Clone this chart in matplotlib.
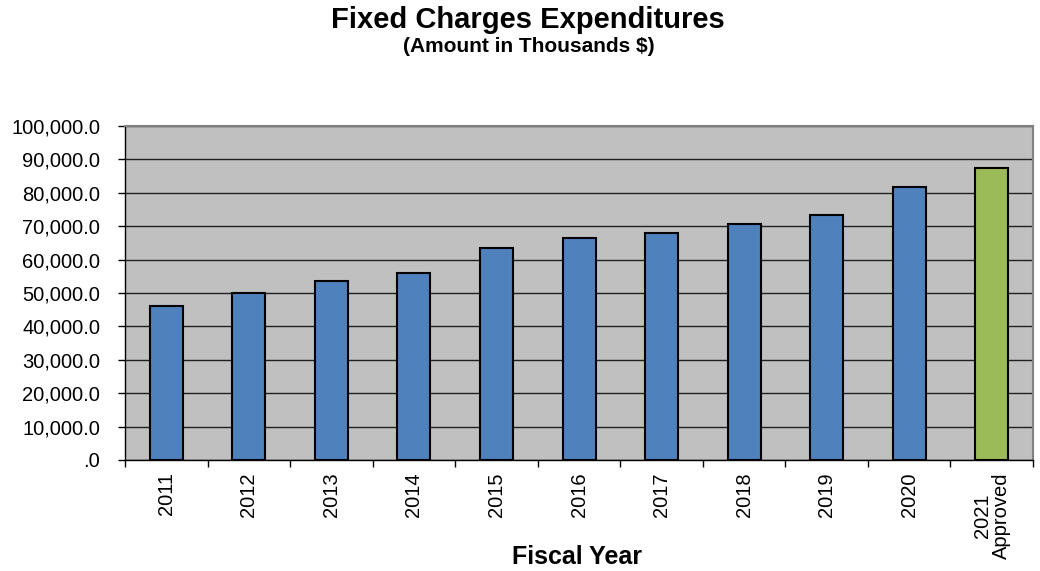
import numpy as np
import matplotlib.pyplot as plt
from matplotlib.ticker import FuncFormatter, MultipleLocator

plt.rcParams['font.family'] = ['Liberation Sans', 'DejaVu Sans']

# Fiscal years and fixed charges (thousands $)
years = ['2011', '2012', '2013', '2014', '2015', '2016', '2017', '2018', '2019', '2020', '2021\nApproved']
amounts = [46200, 49900, 53500, 55900, 63600, 66600, 68100, 70600, 73300, 81800, 87300]
colors = ['#4F81BD'] * 10 + ['#9BBB59']

fig = plt.figure(figsize=(10.4, 5.71), dpi=100)
ax = fig.add_axes([0.1202, 0.1944, 0.8731, 0.5849])
ax.set_facecolor('#C0C0C0')

x = np.arange(len(years))
ax.bar(x, amounts, width=0.4, color=colors, edgecolor='black', linewidth=1.5, zorder=3)

ax.set_xlim(-0.5, len(years) - 0.5)
ax.set_ylim(0, 100000)
ax.yaxis.set_major_locator(MultipleLocator(10000))

def fmt(v, pos):
    if v == 0:
        return '.0'
    return '{:,.1f}'.format(v)

ax.yaxis.set_major_formatter(FuncFormatter(fmt))
ax.grid(axis='y', color='#202020', linewidth=1, zorder=1)

ax.set_xticks(x)
ax.set_xticklabels(years, rotation=90, fontsize=14.5, va='top', ha='center',
                   multialignment='center', linespacing=1.0)
ax.set_xticks(np.arange(-0.5, len(years)), minor=True)
ax.tick_params(axis='x', which='major', length=0, pad=9)
ax.tick_params(axis='x', which='minor', length=5, width=1, color='black', direction='out')
ax.tick_params(axis='y', length=5, width=1, direction='out', labelsize=14.5, pad=13)

for side in ['left', 'bottom']:
    ax.spines[side].set_color('black')
    ax.spines[side].set_linewidth(1)
for side in ['top', 'right']:
    ax.spines[side].set_color('#808080')
    ax.spines[side].set_linewidth(1.5)

fig.text(0.508, 0.965, 'Fixed Charges Expenditures', ha='center', va='center', fontsize=21, fontweight='bold')
fig.text(0.508, 0.918, '(Amount in Thousands $)', ha='center', va='center', fontsize=15, fontweight='bold')
fig.text(0.555, 0.025, 'Fiscal Year', ha='center', va='center', fontsize=18, fontweight='bold')

fig.savefig('out.png', dpi=100)
